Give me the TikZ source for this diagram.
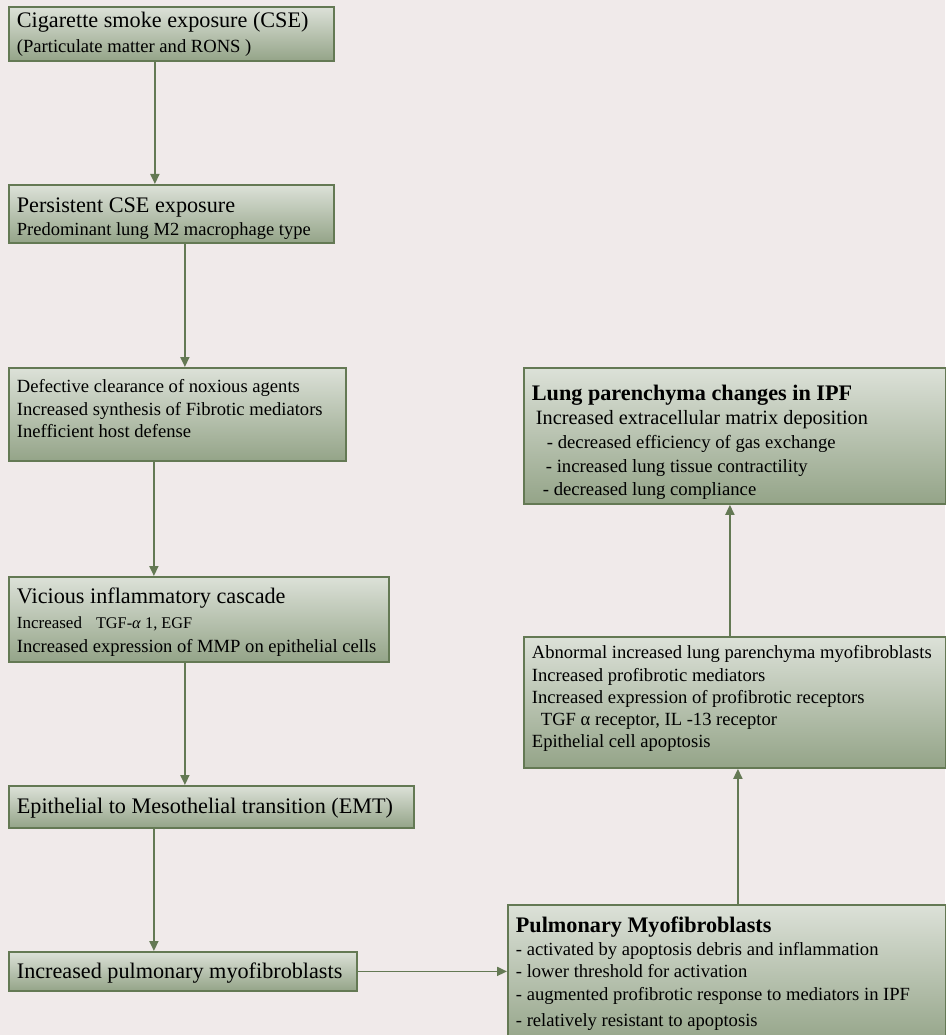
\documentclass[tikz,border=0pt]{standalone}
\usepackage{fontspec}
\setmainfont{Liberation Serif}
\usetikzlibrary{arrows.meta,positioning}
\definecolor{pagebg}{RGB}{240,234,234}
\definecolor{boxtop}{RGB}{220,225,216}
\definecolor{boxbot}{RGB}{148,164,136}
\definecolor{boxline}{RGB}{100,121,84}
% font sizes (1pt = 1px of the figure)
\newcommand{\bigf}{\fontsize{22.2}{25}\selectfont}
\newcommand{\titf}{\fontsize{22.2}{25}\selectfont\bfseries}
\newcommand{\smf}{\fontsize{16.3}{18}\selectfont}
% struts to fix first baseline and last depth inside a box
\newcommand{\tstrut}[1]{\rule{0pt}{#1pt}}
\newcommand{\bstrut}[1]{\rule[-#1pt]{0pt}{#1pt}}
\begin{document}
\begin{tikzpicture}[
        x = 1pt, y = 1pt,
        box/.style  = {draw=boxline, line width=1.8pt, top color=boxtop, bottom color=boxbot,
                       anchor=north west, align=flush left, inner xsep=8pt, inner ysep=0pt},
        link/.style = {draw=boxline, line width=1.8pt, -{Triangle[length=10pt,width=9pt]}},
      ]
        \fill[pagebg] (0,0) rectangle (945,-1035);
        \useasboundingbox (0,0) rectangle (945,-1035);

        % left column
        \node[box, minimum width=325pt, minimum height=54pt, text width=309pt,
              font=\fontsize{18.6}{25}\selectfont] (cse) at (8,-6)
            {\tstrut{20}{\bigf Cigarette smoke exposure (CSE)}\\(Particulate matter and RONS )\bstrut{7}};
        \node[box, minimum width=325pt, minimum height=58pt, text width=309pt,
              font=\fontsize{18.5}{23}\selectfont] (persist) at (8,-184)
            {\tstrut{27}{\bigf Persistent CSE exposure}\\Predominant lung M2 macrophage type\bstrut{6}};
        \node[box, minimum width=337pt, minimum height=93pt, text width=321pt,
              font=\fontsize{18.6}{22.5}\selectfont] (clear) at (8,-367)
            {\tstrut{20}Defective clearance of noxious agents\\
             Increased synthesis of Fibrotic mediators\\
             Inefficient host defense\bstrut{18}};
        \node[box, minimum width=380pt, minimum height=85pt, text width=364pt,
              font=\fontsize{18.6}{24.5}\selectfont] (cascade) at (8,-576)
            {\tstrut{24}{\bigf Vicious inflammatory cascade}\\
             {\fontsize{17}{20}\selectfont Increased\hspace{14pt}\smf TGF-\textit{α} 1, EGF}\\
             Increased expression of MMP on epithelial cells\bstrut{6}};
        \node[box, minimum width=405pt, minimum height=42pt, text width=389pt,
              font=\bigf] (emt) at (8,-785)
            {\tstrut{20}Epithelial to Mesothelial transition (EMT)\bstrut{6}};
        \node[box, minimum width=348pt, minimum height=39pt, text width=332pt,
              font=\bigf] (incmyo) at (8,-951)
            {\tstrut{21}Increased pulmonary myofibroblasts\bstrut{6}};

        % right column
        \node[box, minimum width=438pt, minimum height=140pt, text width=422pt,
              font=\fontsize{18.6}{22.5}\selectfont] (pulmyo) at (507,-904)
            {\tstrut{20}{\titf Pulmonary Myofibroblasts}\\
             - activated by apoptosis debris and inflammation\\
             - lower threshold for activation\\
             - augmented profibrotic response to mediators in IPF\\[3.5pt]
             - relatively resistant to apoptosis\bstrut{10.5}};
        \node[box, minimum width=422pt, minimum height=131pt, text width=406pt,
              font=\fontsize{18.6}{22.2}\selectfont] (abnorm) at (523,-636)
            {\tstrut{20}Abnormal increased lung parenchyma myofibroblasts\\
             Increased profibrotic mediators\\
             Increased expression of profibrotic receptors\\
             \hspace{9pt}TGF α receptor, IL -13 receptor\\
             Epithelial cell apoptosis\bstrut{18.2}};
        \node[box, minimum width=422pt, minimum height=136pt, text width=406pt,
              font=\fontsize{18.7}{23.75}\selectfont] (ipf) at (523,-367)
            {\tstrut{31}{\titf Lung parenchyma changes in IPF}\\
             {\fontsize{20.3}{24}\selectfont\hspace{4pt}Increased extracellular matrix deposition}\\
             \hspace{15pt}- decreased efficiency of gas exchange\\
             \hspace{14pt}- increased lung tissue contractility\\
             \hspace{11pt}- decreased lung compliance\bstrut{6}};

        % connectors
        \draw[link] ([xshift=-16.5pt]cse.south) -- ([xshift=-16.5pt]persist.north);
        \draw[link] ([xshift=13.5pt]persist.south) -- ([xshift=7.5pt]clear.north);
        \draw[link] ([xshift=-23.5pt]clear.south) -- ([xshift=-45pt]cascade.north);
        \draw[link] ([xshift=-14pt]cascade.south) -- ([xshift=-26.5pt]emt.north);
        \draw[link] ([xshift=-57.5pt]emt.south) -- ([xshift=-29pt]incmyo.north);
        \draw[link] (incmyo.east) -- (incmyo.east -| pulmyo.west);
        \draw[link] ([xshift=11pt]pulmyo.north) -- ([xshift=3pt]abnorm.south);
        \draw[link] ([xshift=-5pt]abnorm.north) -- ([xshift=-5pt]ipf.south);
\end{tikzpicture}
\end{document}
